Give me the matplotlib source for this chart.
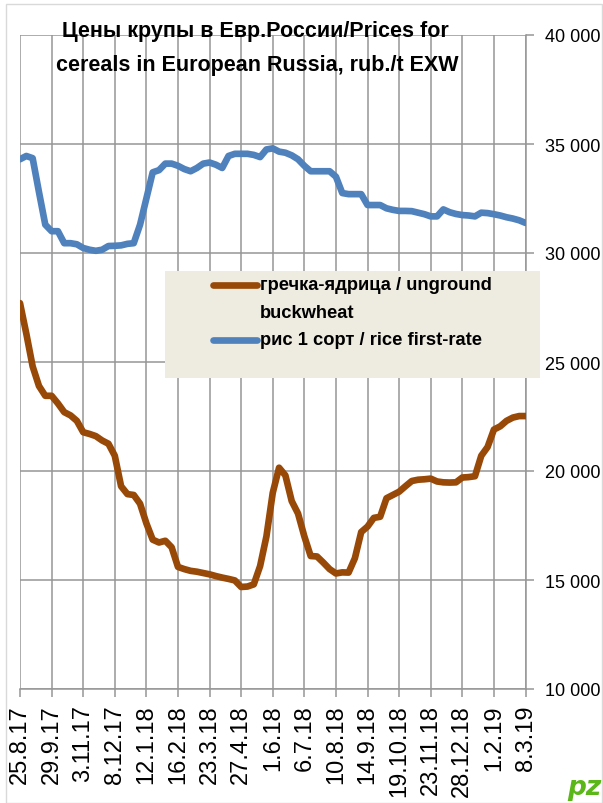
#!/usr/bin/env python3
"""Buckwheat and rice prices in European Russia, weekly, rub./t EXW."""

import matplotlib
matplotlib.use("Agg")
import matplotlib.pyplot as plt
import pandas as pd
from matplotlib.lines import Line2D
from matplotlib.patches import Rectangle
from matplotlib.ticker import FuncFormatter

SANS = ["Liberation Sans", "DejaVu Sans"]

TITLE_1 = "Цены крупы в Евр.России/Prices for"
TITLE_2 = "cereals in European Russia, rub./t EXW"
LABEL_BUCKWHEAT = ["гречка-ядрица / unground", "buckwheat"]
LABEL_RICE = "рис 1 сорт / rice first-rate"

dates = pd.date_range("2017-08-25", periods=81, freq="7D")

buckwheat = [
    27700, 26300, 24800, 23900, 23450, 23450, 23100, 22700, 22550, 22300,
    21780, 21700, 21600, 21400, 21250, 20700, 19300, 18940, 18900, 18500,
    17600, 16850, 16720, 16800, 16500, 15600, 15500, 15420, 15380, 15320,
    15260, 15180, 15110, 15050, 14980, 14680, 14700, 14800, 15640, 17000,
    19000, 20150, 19800, 18620, 18050, 17000, 16100, 16080, 15800, 15500,
    15300, 15350, 15340, 16000, 17200, 17450, 17850, 17900, 18750, 18900,
    19050, 19300, 19540, 19600, 19620, 19650, 19520, 19480, 19470, 19480,
    19700, 19720, 19760, 20700, 21100, 21900, 22050, 22300, 22450, 22520,
    22520,
]

rice = [
    34300, 34450, 34350, 32800, 31300, 31000, 31000, 30450, 30450, 30400,
    30230, 30150, 30100, 30150, 30320, 30330, 30350, 30420, 30450, 31300,
    32500, 33700, 33800, 34100, 34100, 34000, 33850, 33750, 33900, 34100,
    34150, 34050, 33900, 34450, 34550, 34550, 34550, 34500, 34400, 34750,
    34800, 34650, 34600, 34480, 34300, 34000, 33750, 33750, 33750, 33750,
    33500, 32750, 32700, 32700, 32700, 32200, 32200, 32200, 32050, 31980,
    31930, 31930, 31920, 31850, 31780, 31680, 31680, 32000, 31870, 31790,
    31740, 31720, 31680, 31850, 31830, 31780, 31720, 31640, 31580, 31500,
    31380,
]

y_ticks = [10000, 15000, 20000, 25000, 30000, 35000, 40000]

BROWN = "#984807"
BLUE = "#4F81BD"
GRID = "#969696"

W, H = 603, 804
fig = plt.figure(figsize=(W / 100, H / 100), dpi=100)
ax = fig.add_axes([20 / W, 1 - 690 / H, 505.5 / W, 654 / H])

kw = dict(lw=4.8, solid_capstyle="round", solid_joinstyle="round", zorder=3)
ax.plot(dates, buckwheat, color=BROWN, **kw)
ax.plot(dates, rice, color=BLUE, **kw)

ax.set_xlim(dates[0], dates[-1])
ax.set_ylim(10000, 40000)
tick_dates = dates[::5]
ax.set_xticks(tick_dates)
ax.set_xticklabels([f"{d.day}.{d.month}.{d:%y}" for d in tick_dates],
                   rotation=90, family=SANS, fontsize=17, va="top")
ax.set_yticks(y_ticks)
ax.yaxis.set_major_formatter(
    FuncFormatter(lambda v, _: f"{int(v):,}".replace(",", " ")))
ax.yaxis.tick_right()
for lab in ax.get_yticklabels():
    lab.set_family(SANS)
    lab.set_fontsize(13)
ax.tick_params(axis="y", length=6, width=1.1, color=GRID, pad=8)
ax.tick_params(axis="x", length=6, width=1.1, color=GRID, pad=5)
ax.grid(True, color=GRID, lw=1.1, zorder=1)
for side in ("top", "left"):
    ax.spines[side].set_visible(False)
for side in ("bottom", "right"):
    ax.spines[side].set_color(GRID)
    ax.spines[side].set_linewidth(1.1)

# chart frame
fig.patches.append(Rectangle((6 / W, 0), 596 / W, 1 - 5 / H,
                             transform=fig.transFigure, fill=False,
                             edgecolor="#D9D9D9", lw=1.0))

title_kw = dict(ha="center", va="center", family=SANS, fontsize=15.5,
                fontweight="bold", zorder=5)
fig.text(255 / W, 1 - 31 / H, TITLE_1, **title_kw)
fig.text(257 / W, 1 - 66 / H, TITLE_2, **title_kw)

# legend
fig.patches.append(Rectangle((165 / W, 1 - 379 / H), 375 / W, 107 / H,
                             transform=fig.transFigure, facecolor="#EEECE1",
                             edgecolor="none", zorder=4))
for y, color in ((286, BROWN), (341, BLUE)):
    fig.lines.append(Line2D([213 / W, 257 / W], [1 - y / H] * 2,
                            transform=fig.transFigure, color=color, lw=4.8,
                            solid_capstyle="round", zorder=5))
leg_kw = dict(ha="left", va="center", family=SANS, fontsize=13.2,
              fontweight="bold", zorder=6)
fig.text(260 / W, 1 - 286 / H, LABEL_BUCKWHEAT[0], **leg_kw)
fig.text(260 / W, 1 - 314 / H, LABEL_BUCKWHEAT[1], **leg_kw)
fig.text(260 / W, 1 - 341 / H, LABEL_RICE, **leg_kw)

fig.text(584 / W, 1 - 788 / H, "pz", ha="center", va="center",
         color="#5BB618", fontsize=19, fontweight="bold", style="italic")

fig.savefig("out.png", dpi=100)
